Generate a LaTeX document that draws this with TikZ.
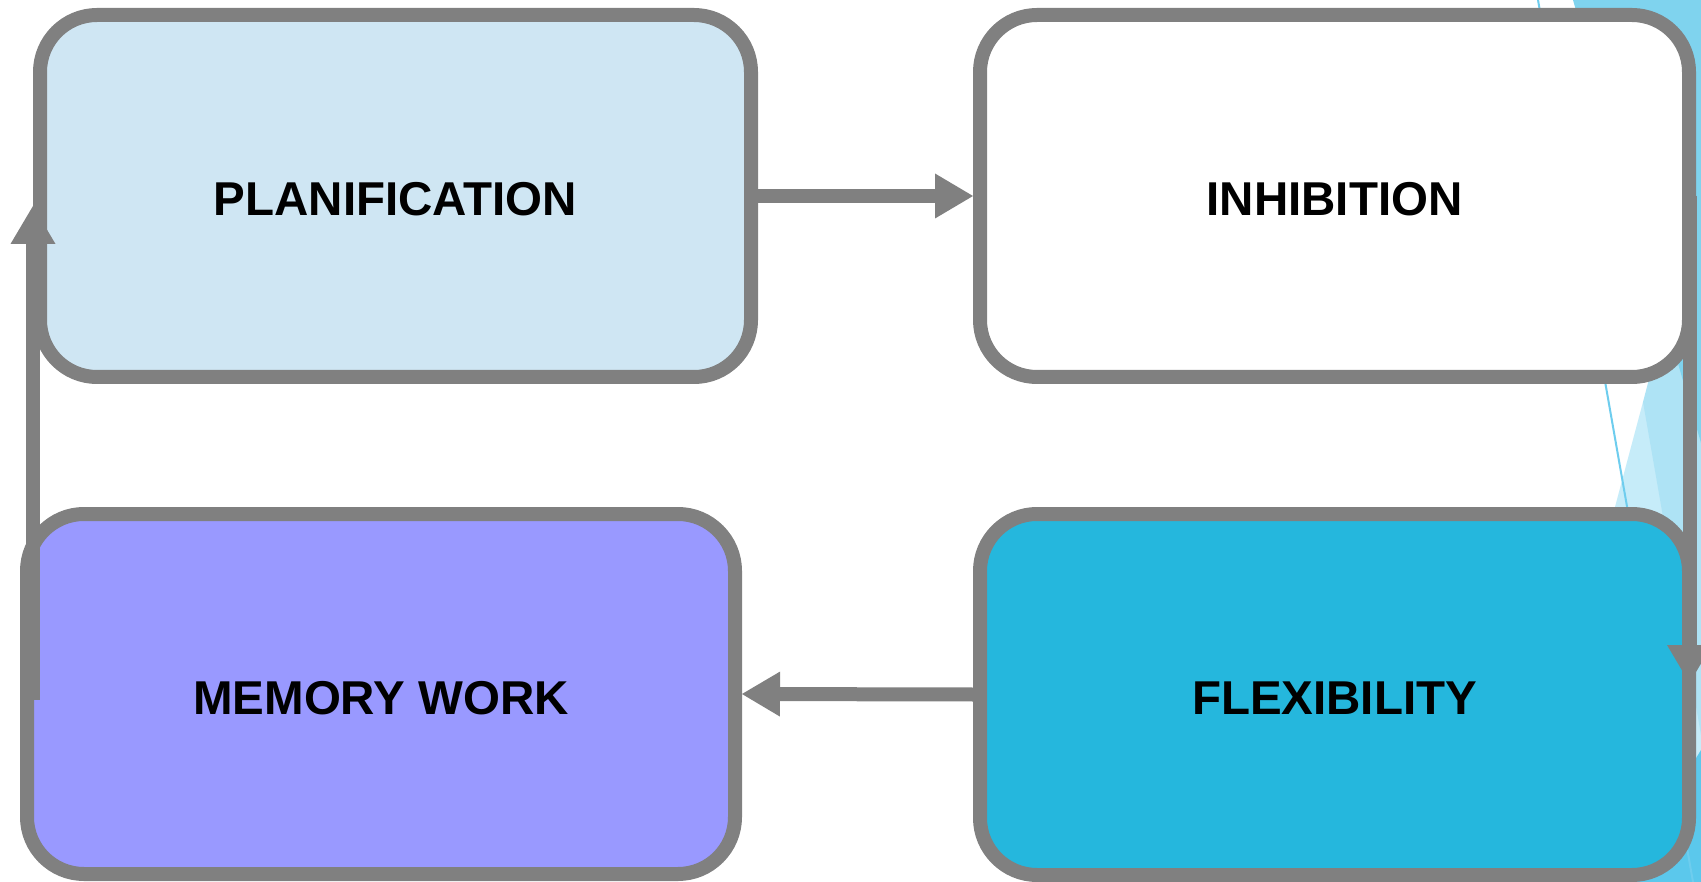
\documentclass[tikz,border=0pt]{standalone}
\usepackage{fontspec}
\setmainfont{Liberation Sans}
\usetikzlibrary{arrows.meta}
\definecolor{bordergray}{RGB}{128,128,128}
\definecolor{planfill}{RGB}{207,230,243}
\definecolor{memfill}{RGB}{153,153,255}
\definecolor{flexfill}{RGB}{37,183,221}
\definecolor{decoA}{RGB}{127,211,238}
\definecolor{decoB}{RGB}{198,236,249}
\definecolor{decoC}{RGB}{174,227,245}
\definecolor{decoD}{RGB}{91,200,236}
\definecolor{decoline}{RGB}{110,205,238}
\tikzset{
  box/.style={draw=bordergray, line width=14pt, rounded corners=57pt,
    inner sep=0pt, align=center, text height=40pt, text depth=0pt,
    font=\fontsize{47.5}{56}\selectfont\bfseries, text=black},
  conn/.style={draw=bordergray, line width=14pt,
    -{Triangle[length=38pt,width=45pt,line width=0pt]}}
}
\begin{document}
\begin{tikzpicture}[x=1pt,y=-1pt]
\useasboundingbox (0,0) rectangle (1701,882);
\fill[white] (0,0) rectangle (1701,882);
\clip (0,0) rectangle (1701,882);
% background decoration (right edge)
\fill[decoB] (1643,402) -- (1515,882) -- (1701,882) -- (1701,402) -- cycle;
\fill[decoC] (1643,402) -- (1701,735) -- (1701,200) -- (1696,200) -- cycle;
\fill[decoD] (1701,750) -- (1701,882) -- (1620,882) -- cycle;
\fill[decoA] (1573,0) -- (1701,0) -- (1701,443) -- cycle;
\draw[decoline, line width=2pt] (1538,0) -- (1693,882);
% boxes
\node[box, fill=planfill, minimum width=711pt, minimum height=362pt] (plan) at (395.5,196) {PLANIFICATION};
\node[box, fill=white, minimum width=709pt, minimum height=362pt] (inh) at (1334.5,196) {INHIBITION};
\node[box, fill=memfill, minimum width=708pt, minimum height=360pt] (mem) at (381,694) {MEMORY WORK};
\node[box, fill=flexfill, minimum width=709pt, minimum height=361pt] (flex) at (1334.5,694.5) {FLEXIBILITY};
% connectors
\coordinate (lstart) at (33,700);
\coordinate (lend) at (33,206);
\coordinate (rstart) at (1689.5,196);
\coordinate (rend) at (1689.5,683);
\draw[conn] (plan.east) -- (inh.west);
\draw[conn] (flex.west) -- (mem.east);
\draw[conn] (lstart) -- (lend);
\draw[conn] (rstart) -- (rend);
\end{tikzpicture}
\end{document}
